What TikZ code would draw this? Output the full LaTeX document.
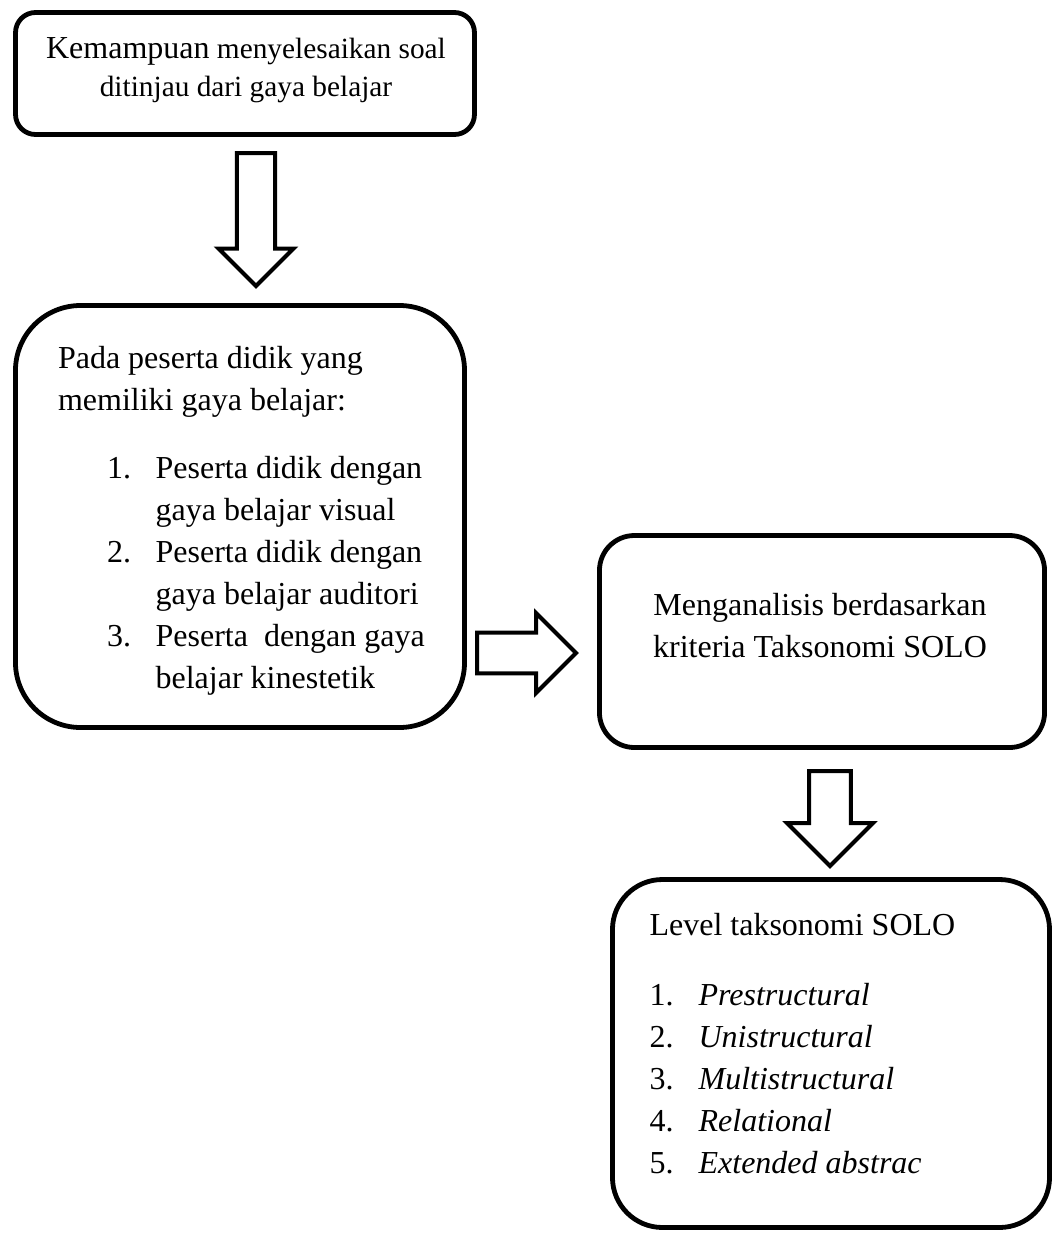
\documentclass[tikz,border=0pt]{standalone}
\usepackage{fontspec}
\setmainfont{Liberation Serif}
\usepackage{tikz}
\usetikzlibrary{shapes.arrows}
\definecolor{qqqqqq}{rgb}{0,0,0}
\definecolor{ffffff}{rgb}{1,1,1}

\begin{document}
\begin{tikzpicture}[line cap=round,line join=round,x=0.375pt,y=-0.375pt,
		kotak/.style={draw=qqqqqq,line width=1.8pt,rectangle,inner sep=0pt},
		panah/.style={draw=qqqqqq,fill=ffffff,line width=1.5pt,line join=miter,single arrow,
			single arrow tip angle=90,inner xsep=0pt,minimum width=0pt,anchor=tail},
		teks/.style={inner sep=0pt,text=qqqqqq}]
	\useasboundingbox (0,0) rectangle (1053,1233);
		% kotak
		\node[kotak,minimum width=172.1pt,minimum height=45.75pt,rounded corners=7.5pt] (b1) at (245,73.5) {};
		\node[kotak,minimum width=168.4pt,minimum height=158.25pt,rounded corners=24.4pt] (b2) at (240,516.5) {};
		\node[kotak,minimum width=166.9pt,minimum height=79.5pt,rounded corners=13.1pt] (b3) at (822,641.5) {};
		\node[kotak,minimum width=163.9pt,minimum height=130.5pt,rounded corners=18.75pt] (b4) at (831,1053.5) {};
		% panah
		\node[panah,rotate=-90,minimum height=49.9pt,inner ysep=6.4pt,single arrow head extend=6.9pt] (a1) at (256,151) {};
		\node[panah,minimum height=37.1pt,inner ysep=6.9pt,single arrow head extend=7.3pt] (a2) at (475,653) {};
		\node[panah,rotate=-90,minimum height=35.6pt,inner ysep=7.1pt,single arrow head extend=8.2pt] (a3) at (830,769) {};
		% teks
		\node[teks,anchor=base,font=\fontsize{11}{14.6}\selectfont] (t1) at (246,58)
			{\begin{tabular}[t]{@{}c@{}}{\fontsize{12}{14.6}\selectfont Kemampuan} menyelesaikan soal\\ ditinjau dari gaya belajar\end{tabular}};
		\node[teks,anchor=base west,font=\fontsize{12}{15.75}\selectfont] (t2) at (57.5,368)
			{\begin{tabular}[t]{@{}l@{}}
				Pada peserta didik yang\\
				memiliki gaya belajar:\\[9.75pt]
				\hspace*{18.4pt}\makebox[18.2pt][l]{1.}Peserta didik dengan\\
				\hspace*{36.6pt}gaya belajar visual\\
				\hspace*{18.4pt}\makebox[18.2pt][l]{2.}Peserta didik dengan\\
				\hspace*{36.6pt}gaya belajar auditori\\
				\hspace*{18.4pt}\makebox[18.2pt][l]{3.}Peserta~ dengan gaya\\
				\hspace*{36.6pt}belajar kinestetik
			\end{tabular}};
		\node[teks,anchor=base,font=\fontsize{12}{16.1}\selectfont] (t3) at (820,615)
			{\begin{tabular}[t]{@{}c@{}}Menganalisis berdasarkan\\ kriteria Taksonomi SOLO\end{tabular}};
		\node[teks,anchor=base west,font=\fontsize{12}{15.75}\selectfont] (t4) at (649,935)
			{\begin{tabular}[t]{@{}l@{}}
				Level taksonomi SOLO\\[10.5pt]
				\makebox[18.4pt][l]{1.}\textit{Prestructural}\\
				\makebox[18.4pt][l]{2.}\textit{Unistructural}\\
				\makebox[18.4pt][l]{3.}\textit{Multistructural}\\
				\makebox[18.4pt][l]{4.}\textit{Relational}\\
				\makebox[18.4pt][l]{5.}\textit{Extended abstrac}
			\end{tabular}};
\end{tikzpicture}
\end{document}
